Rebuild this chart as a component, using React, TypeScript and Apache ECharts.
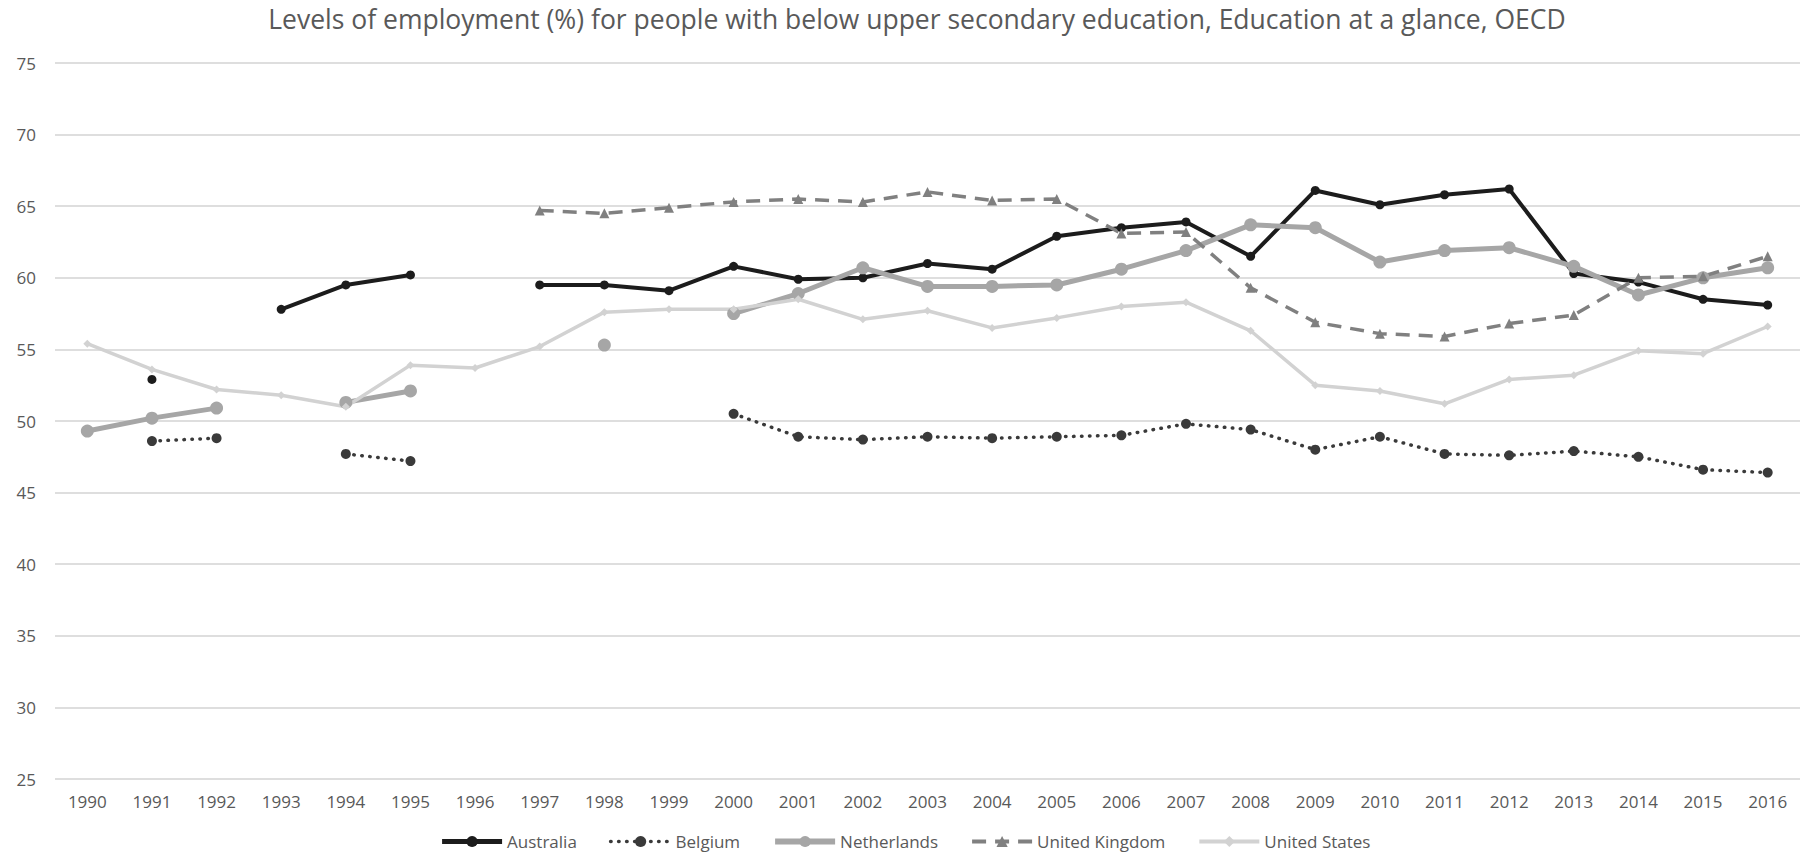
import React, { useEffect, useRef } from "react";
import * as echarts from "echarts";

const years = [
  "1990", "1991", "1992", "1993", "1994", "1995", "1996", "1997", "1998", "1999",
  "2000", "2001", "2002", "2003", "2004", "2005", "2006", "2007", "2008", "2009",
  "2010", "2011", "2012", "2013", "2014", "2015", "2016",
];

const australia = [
  null, 52.9, null, 57.8, 59.5, 60.2, null, 59.5, 59.5, 59.1,
  60.8, 59.9, 60.0, 61.0, 60.6, 62.9, 63.5, 63.9, 61.5, 66.1,
  65.1, 65.8, 66.2, 60.3, 59.7, 58.5, 58.1,
];

const belgium = [
  null, 48.6, 48.8, null, 47.7, 47.2, null, null, null, null,
  50.5, 48.9, 48.7, 48.9, 48.8, 48.9, 49.0, 49.8, 49.4, 48.0,
  48.9, 47.7, 47.6, 47.9, 47.5, 46.6, 46.4,
];

const netherlands = [
  49.3, 50.2, 50.9, null, 51.3, 52.1, null, null, 55.3, null,
  57.5, 58.9, 60.7, 59.4, 59.4, 59.5, 60.6, 61.9, 63.7, 63.5,
  61.1, 61.9, 62.1, 60.8, 58.8, 60.0, 60.7,
];

const unitedKingdom = [
  null, null, null, null, null, null, null, 64.7, 64.5, 64.9,
  65.3, 65.5, 65.3, 66.0, 65.4, 65.5, 63.1, 63.2, 59.3, 56.9,
  56.1, 55.9, 56.8, 57.4, 60.0, 60.1, 61.5,
];

const unitedStates = [
  55.4, 53.6, 52.2, 51.8, 51.0, 53.9, 53.7, 55.2, 57.6, 57.8,
  57.8, 58.5, 57.1, 57.7, 56.5, 57.2, 58.0, 58.3, 56.3, 52.5,
  52.1, 51.2, 52.9, 53.2, 54.9, 54.7, 56.6,
];

const titleText =
  "Levels of employment (%) for people with below upper secondary education, Education at a glance, OECD";

const FONT = "Open Sans";
const TEXT_COLOR = "#595959";

export default function App() {
  const ref = useRef<HTMLDivElement | null>(null);

  useEffect(() => {
    if (!ref.current) return;
    const chart = echarts.init(ref.current, undefined, { renderer: "svg" });
    const mk = (
      name: string,
      data: (number | null)[],
      color: string,
      width: number,
      type: any,
      symbol: string,
      symbolSize: number,
      cap: string = "butt"
    ) => ({
      name,
      type: "line",
      data: data.map((v) => (v === null ? "-" : v)),
      connectNulls: false,
      symbol,
      symbolSize,
      showSymbol: true,
      itemStyle: { color, borderWidth: 0 },
      lineStyle: { color, width, type, cap },
      emphasis: { disabled: true },
    });

    chart.setOption({
      animation: false,
      backgroundColor: "#ffffff",
      textStyle: { fontFamily: FONT },
      title: {
        text: titleText,
        left: 912,
        textAlign: "center",
        top: 0,
        textStyle: {
          fontFamily: FONT,
          fontSize: 26.5,
          fontWeight: "normal",
          color: TEXT_COLOR,
        },
      },
      legend: {
        left: "center",
        top: 828,
        itemWidth: 60,
        itemHeight: 14,
        itemGap: 32,
        textStyle: { fontFamily: FONT, fontSize: 17, color: TEXT_COLOR },
        data: [
          { name: "Australia", lineStyle: { width: 5 } },
          { name: "Belgium", lineStyle: { width: 3.5 } },
          { name: "Netherlands", lineStyle: { width: 6 } },
          { name: "United Kingdom", lineStyle: { width: 4 } },
          { name: "United States", lineStyle: { width: 4 } },
        ],
      },
      grid: { left: 55, right: 10, top: 63, bottom: 77, containLabel: false },
      xAxis: {
        type: "category",
        data: years,
        boundaryGap: true,
        axisLine: { show: false },
        axisTick: { show: false },
        axisLabel: {
          fontFamily: FONT,
          fontSize: 17,
          color: TEXT_COLOR,
          margin: 14,
          interval: 0,
        },
      },
      yAxis: {
        type: "value",
        min: 25,
        max: 75,
        interval: 5,
        axisLine: { show: false },
        axisTick: { show: false },
        axisLabel: { fontFamily: FONT, fontSize: 17, color: TEXT_COLOR, margin: 19 },
        splitLine: { lineStyle: { color: "#dedede", width: 2 } },
      },
      series: [
        mk("Australia", australia, "#1c1c1c", 4, "solid", "circle", 9),
        mk("Belgium", belgium, "#3a3a3a", 3.5, [0.5, 7.5], "circle", 10, "round"),
        mk("Netherlands", netherlands, "#a6a6a6", 5, "solid", "circle", 13),
        mk("United Kingdom", unitedKingdom, "#808080", 3.5, [14, 9], "triangle", 10),
        mk("United States", unitedStates, "#d2d2d2", 3.5, "solid", "diamond", 8),
      ],
    });
    return () => chart.dispose();
  }, []);

  return (
    <div
      ref={ref}
      style={{ position: "absolute", left: 0, top: 0, width: 1810, height: 856 }}
    />
  );
}
